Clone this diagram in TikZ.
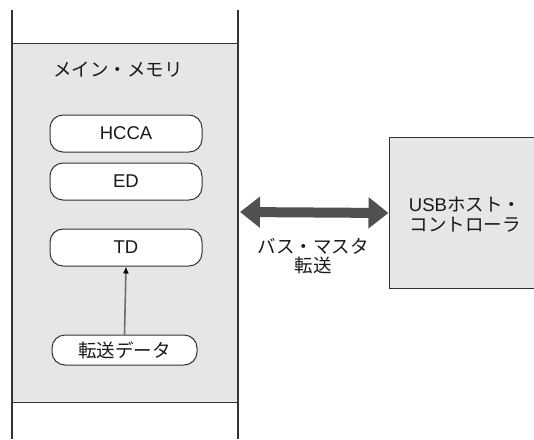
\documentclass[tikz,border=0pt]{standalone}
\usepackage{fontspec}
\newfontfamily\jp{Noto Sans CJK JP}
\newfontfamily\lat{Liberation Sans}
\usetikzlibrary{arrows.meta}
\definecolor{fillgray}{HTML}{E6E6E6}
\definecolor{linegray}{HTML}{333333}
\definecolor{arrowgray}{HTML}{505050}
\definecolor{conngray}{HTML}{6E6E6E}
\tikzset{
  txt/.style={font=\jp\fontsize{18.5}{20}\selectfont, text=black!90, inner sep=0pt},
  rbox/.style={draw=linegray, line width=1pt, fill=white, rounded corners=13pt, minimum width=152pt, minimum height=37pt, font=\lat\fontsize{18.5}{20}\selectfont, text=black!90, inner sep=0pt},
}
\begin{document}
\begin{tikzpicture}[x=1pt,y=-1pt]
\useasboundingbox (0,0) rectangle (534,439);
% memory region
\fill[fillgray] (12,43) rectangle (238,402);
\draw[linegray, line width=1pt] (12,43) -- (238,43);
\draw[linegray, line width=1pt] (12,402) -- (238,402);
\draw[linegray, line width=1.3pt] (12,10) -- (12,439);
\draw[linegray, line width=1.3pt] (238,10) -- (238,439);
\node[txt] (title) at (118,70) {メイン・メモリ};
\node[rbox] (hcca) at (126,133.5) {HCCA};
\node[rbox] (ed) at (126,181.5) {ED};
\node[rbox] (td) at (126,247.5) {TD};
\node[rbox, font=\jp\fontsize{18.5}{20}\selectfont, minimum width=145pt, minimum height=30pt] (data) at (124.5,350) {転送データ};
\draw[conngray, line width=1.6pt, -{Latex[length=7pt,width=6pt,color=black]}] (data.north) -- (td.south);
% USB host controller
\begin{scope}
\clip (0,0) rectangle (534,439);
\node[draw=linegray, line width=1pt, fill=fillgray, minimum width=160pt, minimum height=151pt, inner sep=0pt, anchor=north west] (usb) at (388.5,137) {};
\end{scope}
\node[txt, align=center, font=\jp\fontsize{18.5}{20}\selectfont] (usbt) at (465,214.5) {{\lat USB}ホスト・\\コントローラ};
% bus master arrow
\coordinate (la) at (240,212);
\draw[arrowgray, line width=10pt, {Triangle[length=20pt,width=30pt]}-{Triangle[length=20pt,width=30pt]}] (la) -- (usb.west);
\node[txt, align=center, font=\jp\fontsize{18.5}{19}\selectfont] (bus) at (313,256) {バス・マスタ\\転送};
\end{tikzpicture}
\end{document}
